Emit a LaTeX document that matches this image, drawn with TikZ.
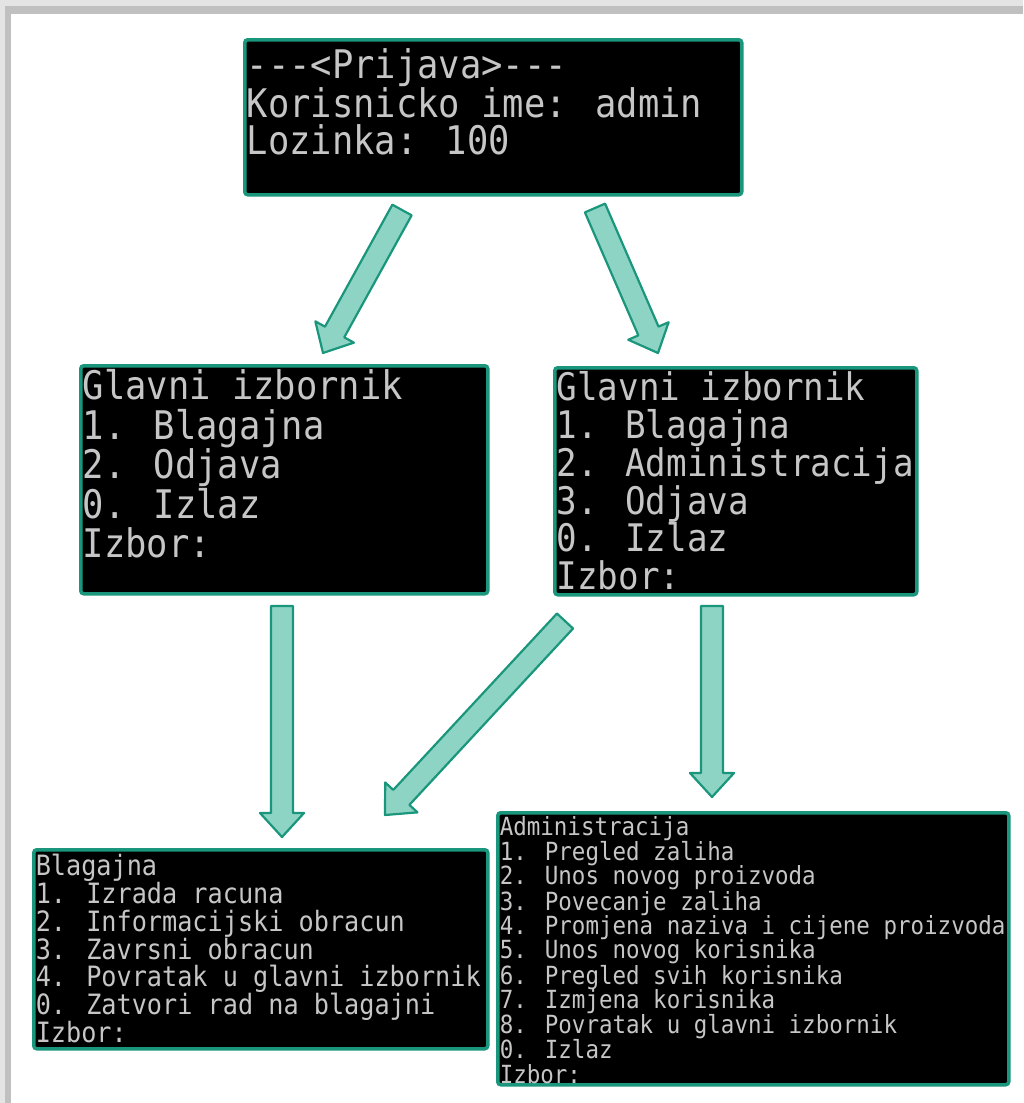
\documentclass[tikz,border=0pt]{standalone}
\usepackage{fontspec}
\usetikzlibrary{calc}
\newfontfamily\consolefont[Ligatures=TeXOff, FakeStretch=0.9]{DejaVu Sans Mono}
\definecolor{screenedge}{RGB}{26,150,124}
\definecolor{arrowfill}{RGB}{142,212,196}
\definecolor{consoletext}{RGB}{198,198,198}
\definecolor{framelight}{RGB}{228,228,228}
\definecolor{framedark}{RGB}{192,192,192}
\newcommand*{\consolebox}[4]{%
\parbox[t][#2][t]{#1}{\rule{0pt}{#3}#4}%
}
\newcommand*{\blockarrow}[2]{%
\coordinate (#1-base) at ($(#2)!24pt!(#1)$);
\draw[arrowbody] ($(#1)!11pt!90:(#2)$) -- ($(#1-base)!11pt!-90:(#1)$)
  -- ($(#1-base)!22pt!-90:(#1)$) -- (#2) -- ($(#1-base)!22pt!90:(#1)$)
  -- ($(#1-base)!11pt!90:(#1)$) -- ($(#1)!11pt!-90:(#2)$) -- cycle;
}

\begin{document}
\begin{tikzpicture}[x=1pt, y=-1pt]
		\tikzset{
			screen/.style = {anchor = north west, fill = black, draw = screenedge, line width = 3.5pt,
				rounded corners = 3pt, inner xsep = 2pt, inner ysep = 0pt, text = consoletext},
			loginfont/.style = {font = \consolefont\fontsize{39.4}{36.5}\selectfont},
			userfont/.style = {font = \consolefont\fontsize{39.4}{39.5}\selectfont},
			adminfont/.style = {font = \consolefont\fontsize{38}{37.8}\selectfont},
			kasafont/.style = {font = \consolefont\fontsize{28}{27.8}\selectfont},
			adminmenufont/.style = {font = \consolefont\fontsize{25}{24.4}\selectfont},
			arrowbody/.style = {fill = arrowfill, draw = screenedge, line width = 2.2pt, line join = round},
		};

		\useasboundingbox (0,0) rectangle (1023,1103);
		% shadowed frame
		\fill[framelight] (0,0) rectangle (1023,1103);
		\fill[framedark] (5,6) rectangle (1023,1103);
		\fill[white] (11,14) rectangle (1023,1103);

		\node[screen, loginfont] (prijava) at (243,38)
			{\consolebox{493pt}{155pt}{39pt}{---<Prijava>---\\Korisnicko ime: admin\\Lozinka: 100}};
		\node[screen, userfont] (glavni-user) at (79,364)
			{\consolebox{403pt}{228pt}{34pt}{Glavni izbornik\\1. Blagajna\\2. Odjava\\0. Izlaz\\Izbor:}};
		\node[screen, adminfont] (glavni-admin) at (553,366)
			{\consolebox{358pt}{227pt}{33pt}{Glavni izbornik\\1. Blagajna\\2. Administracija\\3. Odjava\\0. Izlaz\\Izbor:}};
		\node[screen, kasafont] (blagajna) at (32,848)
			{\consolebox{450pt}{199pt}{26pt}{Blagajna\\1. Izrada racuna\\2. Informacijski obracun\\3. Zavrsni obracun\\4. Povratak u glavni izbornik\\0. Zatvori rad na blagajni\\Izbor:}};
		\node[screen, adminmenufont] (administracija) at (496,811)
			{\consolebox{507pt}{272pt}{23pt}{Administracija\\1. Pregled zaliha\\2. Unos novog proizvoda\\3. Povecanje zaliha\\4. Promjena naziva i cijene proizvoda\\5. Unos novog korisnika\\6. Pregled svih korisnika\\7. Izmjena korisnika\\8. Povratak u glavni izbornik\\0. Izlaz\\Izbor:}};

		% arrow ends
		\coordinate (prijava-left) at (402,210);
		\coordinate (user-in) at (323,353);
		\coordinate (prijava-right) at (595,208);
		\coordinate (admin-in) at (658,353);
		\coordinate (user-out) at (282,606);
		\coordinate (blagajna-in1) at (282,837);
		\coordinate (admin-out1) at (565,621);
		\coordinate (blagajna-in2) at (385,815);
		\coordinate (admin-out2) at (712,606);
		\coordinate (administracija-in) at (712,797);

		\blockarrow{prijava-left}{user-in}
		\blockarrow{prijava-right}{admin-in}
		\blockarrow{user-out}{blagajna-in1}
		\blockarrow{admin-out1}{blagajna-in2}
		\blockarrow{admin-out2}{administracija-in}
	\end{tikzpicture}
\end{document}
